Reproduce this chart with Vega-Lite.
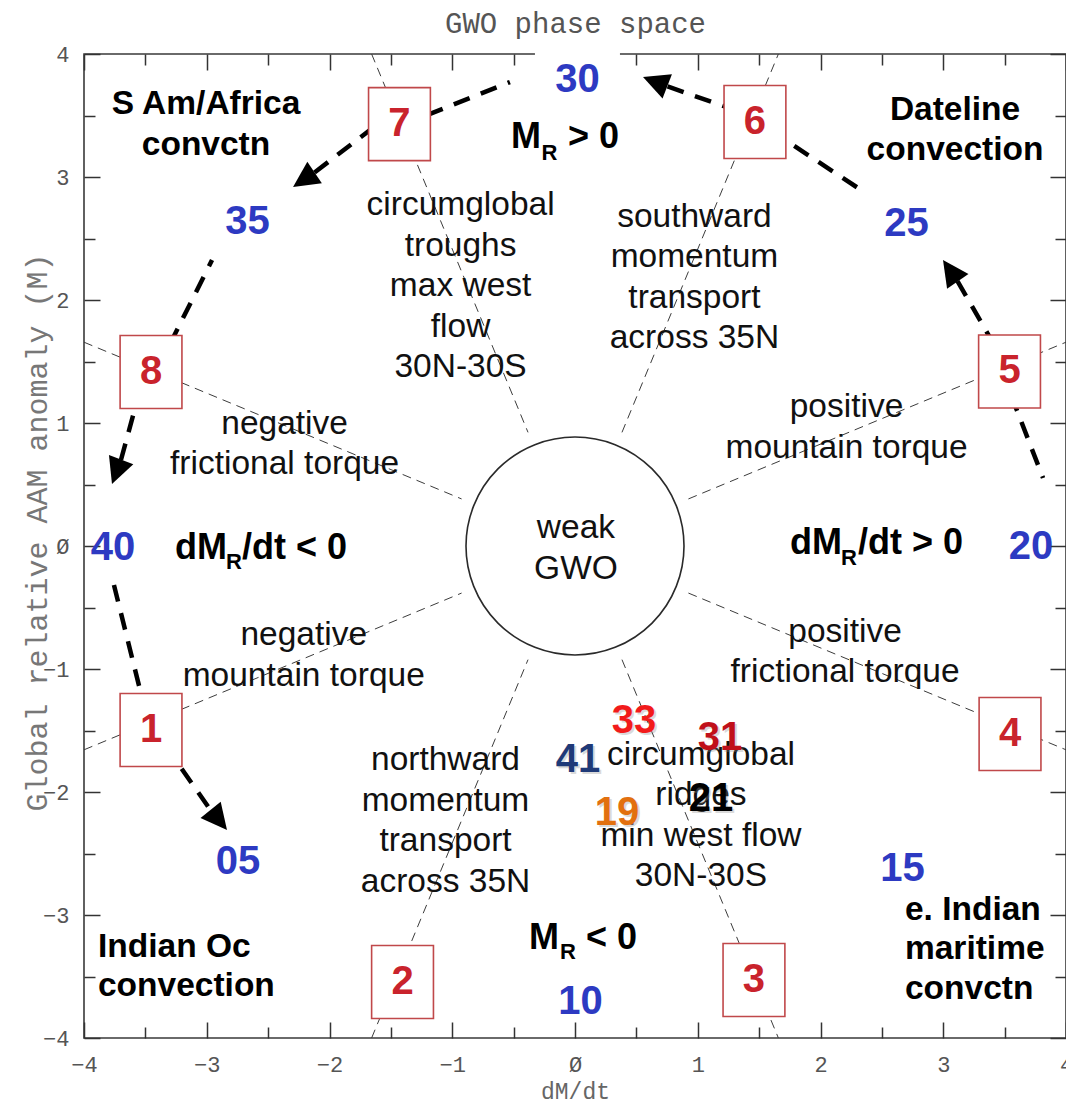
{
  "$schema": "https://vega.github.io/schema/vega-lite/v6.json",
  "width": 982,
  "height": 984,
  "autosize": {"type": "none"},
  "padding": {"left": 84, "top": 54, "right": 0, "bottom": 70},
  "background": "white",
  "config": {"view": {"stroke": "#3a3a3a", "strokeWidth": 1.6}},
  "resolve": {"axis": {"x": "independent", "y": "independent"}},
  "datasets": {
    "spokes": [
      {"spoke": "22.5", "x": 0.9239, "y": 0.3827}, {"spoke": "22.5", "x": 4, "y": 1.6569},
      {"spoke": "67.5", "x": 0.3827, "y": 0.9239}, {"spoke": "67.5", "x": 1.6569, "y": 4},
      {"spoke": "112.5", "x": -0.3827, "y": 0.9239}, {"spoke": "112.5", "x": -1.6569, "y": 4},
      {"spoke": "157.5", "x": -0.9239, "y": 0.3827}, {"spoke": "157.5", "x": -4, "y": 1.6569},
      {"spoke": "202.5", "x": -0.9239, "y": -0.3827}, {"spoke": "202.5", "x": -4, "y": -1.6569},
      {"spoke": "247.5", "x": -0.3827, "y": -0.9239}, {"spoke": "247.5", "x": -1.6569, "y": -4},
      {"spoke": "292.5", "x": 0.3827, "y": -0.9239}, {"spoke": "292.5", "x": 1.6569, "y": -4},
      {"spoke": "337.5", "x": 0.9239, "y": -0.3827}, {"spoke": "337.5", "x": 4, "y": -1.6569}
    ],
    "legs": [
      {"leg": "30-7", "x": -0.530, "y": 3.772}, {"leg": "30-7", "x": -1.426, "y": 3.415},
      {"leg": "7-35", "x": -1.564, "y": 3.463}, {"leg": "7-35", "x": -2.122, "y": 3.037},
      {"leg": "35-8", "x": -2.957, "y": 2.325}, {"leg": "35-8", "x": -3.405, "y": 1.431},
      {"leg": "8-40", "x": -3.544, "y": 1.268}, {"leg": "8-40", "x": -3.699, "y": 0.699},
      {"leg": "40-1", "x": -3.756, "y": -0.317}, {"leg": "40-1", "x": -3.462, "y": -1.496},
      {"leg": "1-05", "x": -3.340, "y": -1.618}, {"leg": "1-05", "x": -2.978, "y": -2.134},
      {"leg": "5-25", "x": 3.462, "y": 1.553}, {"leg": "5-25", "x": 3.116, "y": 2.154},
      {"leg": "20-5", "x": 3.813, "y": 0.553}, {"leg": "20-5", "x": 3.552, "y": 1.228},
      {"leg": "25-6", "x": 2.305, "y": 2.911}, {"leg": "25-6", "x": 1.589, "y": 3.382},
      {"leg": "6-30", "x": 1.303, "y": 3.545}, {"leg": "6-30", "x": 0.754, "y": 3.736}
    ],
    "heads": [
      {"toward": "35", "x": -2.297, "y": 2.919, "heading": 236},
      {"toward": "40", "x": -3.772, "y": 0.504, "heading": 200.6},
      {"toward": "05", "x": -2.835, "y": -2.309, "heading": 140.9},
      {"toward": "25", "x": 2.998, "y": 2.325, "heading": 325.4},
      {"toward": "30", "x": 0.554, "y": 3.813, "heading": 291.2}
    ],
    "phases": [
      {"phase": "1", "x": -3.454, "y": -1.496},
      {"phase": "2", "x": -1.405, "y": -3.545},
      {"phase": "3", "x": 1.458, "y": -3.528},
      {"phase": "4", "x": 3.544, "y": -1.528},
      {"phase": "5", "x": 3.54, "y": 1.419},
      {"phase": "6", "x": 1.466, "y": 3.447},
      {"phase": "7", "x": -1.43, "y": 3.43},
      {"phase": "8", "x": -3.454, "y": 1.415}
    ],
    "days": [
      {"day": "05", "x": -2.745, "y": -2.569},
      {"day": "10", "x": 0.045, "y": -3.707},
      {"day": "15", "x": 2.668, "y": -2.626},
      {"day": "20", "x": 3.715, "y": -0.008},
      {"day": "25", "x": 2.70, "y": 2.618},
      {"day": "30", "x": 0.02, "y": 3.789},
      {"day": "35", "x": -2.668, "y": 2.634},
      {"day": "40", "x": -3.764, "y": -0.016}
    ],
    "years": [
      {"year": "33", "x": 0.481, "y": -1.423},
      {"year": "31", "x": 1.181, "y": -1.561},
      {"year": "41", "x": 0.024, "y": -1.740},
      {"year": "19", "x": 0.342, "y": -2.171},
      {"year": "21", "x": 1.108, "y": -2.057}
    ]
  },
  "layer": [
    {
      "data": {"name": "spokes"},
      "mark": {"type": "line", "stroke": "#3c3c3c", "strokeWidth": 1, "strokeDash": [9, 6]},
      "encoding": {
        "x": {
          "field": "x", "type": "quantitative",
          "scale": {"domain": [-4, 4], "nice": false, "zero": false},
          "axis": {
            "orient": "bottom",
            "values": [-4, -3.5, -3, -2.5, -2, -1.5, -1, -0.5, 0, 0.5, 1, 1.5, 2, 2.5, 3, 3.5, 4],
            "domain": false, "grid": false, "zindex": 0,
            "tickColor": "#333", "tickWidth": 1.5,
            "tickSize": {"condition": {"test": "datum.value % 1 === 0", "value": -16}, "value": -11},
            "labelExpr": "datum.value % 1 !== 0 ? '' : (datum.value === 0 ? 'Ø' : format(datum.value, 'd'))",
            "labelFont": "Liberation Mono", "labelFontSize": 22, "labelColor": "#555",
            "labelFlush": false, "labelOverlap": false, "labelBound": false, "labelPadding": 32,
            "title": "dM/dt", "titleFont": "Liberation Mono", "titleFontSize": 23,
            "titleFontWeight": "normal", "titleColor": "#666",
            "titleY": 53, "titleBaseline": "middle"
          }
        },
        "y": {
          "field": "y", "type": "quantitative",
          "scale": {"domain": [-4, 4], "nice": false, "zero": false},
          "axis": {
            "orient": "left",
            "values": [-4, -3.5, -3, -2.5, -2, -1.5, -1, -0.5, 0, 0.5, 1, 1.5, 2, 2.5, 3, 3.5, 4],
            "domain": false, "grid": false, "zindex": 0,
            "tickColor": "#333", "tickWidth": 1.5,
            "tickSize": {"condition": {"test": "datum.value % 1 === 0", "value": -16}, "value": -11},
            "labelExpr": "datum.value % 1 !== 0 ? '' : (datum.value === 0 ? 'Ø' : format(datum.value, 'd'))",
            "labelFont": "Liberation Mono", "labelFontSize": 22, "labelColor": "#555",
            "labelFlush": false, "labelOverlap": false, "labelBound": false, "labelPadding": 31,
            "title": "Global relative AAM anomaly (M)", "titleFont": "Liberation Mono",
            "titleFontSize": 30, "titleFontWeight": "normal", "titleColor": "#777",
            "titleAngle": 270, "titleX": -47, "titleY": 478, "titleBaseline": "middle"
          }
        },
        "detail": {"field": "spoke"}
      }
    },
    {
      "data": {"values": [{"x": 0, "y": 0}]},
      "mark": {"type": "point", "shape": "circle", "size": 47529, "filled": false, "stroke": "#2a2a2a", "strokeWidth": 1.6, "opacity": 1},
      "encoding": {
        "x": {
          "field": "x", "type": "quantitative",
          "scale": {"domain": [-4, 4], "nice": false, "zero": false},
          "axis": {
            "orient": "top",
            "values": [-4, -3.5, -3, -2.5, -2, -1.5, -1, -0.5, 0, 0.5, 1, 1.5, 2, 2.5, 3, 3.5, 4],
            "domain": false, "grid": false, "labels": false, "zindex": 0,
            "tickColor": "#333", "tickWidth": 1.5,
            "tickSize": {"condition": {"test": "datum.value % 1 === 0", "value": -16}, "value": -11},
            "title": "GWO phase space", "titleFont": "Liberation Mono", "titleFontSize": 29,
            "titleFontWeight": "normal", "titleColor": "#555",
            "titleY": -31, "titleBaseline": "middle"
          }
        },
        "y": {
          "field": "y", "type": "quantitative",
          "scale": {"domain": [-4, 4], "nice": false, "zero": false},
          "axis": {
            "orient": "right",
            "values": [-4, -3.5, -3, -2.5, -2, -1.5, -1, -0.5, 0, 0.5, 1, 1.5, 2, 2.5, 3, 3.5, 4],
            "domain": false, "grid": false, "labels": false, "zindex": 0,
            "tickColor": "#333", "tickWidth": 1.5,
            "tickSize": {"condition": {"test": "datum.value % 1 === 0", "value": -16}, "value": -11},
            "title": null
          }
        }
      }
    },
    {
      "data": {"name": "legs"},
      "mark": {"type": "line", "stroke": "#000", "strokeWidth": 4.5, "strokeDash": [17, 12], "strokeCap": "butt"},
      "encoding": {
        "x": {"field": "x", "type": "quantitative", "scale": {"domain": [-4, 4]}, "axis": null},
        "y": {"field": "y", "type": "quantitative", "scale": {"domain": [-4, 4]}, "axis": null},
        "detail": {"field": "leg"}
      }
    },
    {
      "data": {"name": "heads"},
      "mark": {"type": "point", "shape": "M0,0L0.5,1L-0.5,1Z", "size": 2704, "filled": true, "fill": "#000", "opacity": 1, "strokeWidth": 0},
      "encoding": {
        "x": {"field": "x", "type": "quantitative", "scale": {"domain": [-4, 4]}, "axis": null},
        "y": {"field": "y", "type": "quantitative", "scale": {"domain": [-4, 4]}, "axis": null},
        "angle": {"field": "heading", "type": "quantitative", "scale": null}
      }
    },
    {
      "data": {"name": "phases"},
      "mark": {"type": "point", "shape": "M-0.847,-1H0.847V1H-0.847Z", "size": 5329, "filled": true, "fill": "#fff", "stroke": "#c0484a", "strokeWidth": 1.6, "opacity": 1},
      "encoding": {
        "x": {"field": "x", "type": "quantitative", "scale": {"domain": [-4, 4]}, "axis": null},
        "y": {"field": "y", "type": "quantitative", "scale": {"domain": [-4, 4]}, "axis": null}
      }
    },
    {
      "data": {"name": "phases"},
      "mark": {"type": "text", "font": "Liberation Sans", "fontWeight": "bold", "fontSize": 40, "fill": "#c9232c", "align": "center", "baseline": "middle"},
      "encoding": {
        "x": {"field": "x", "type": "quantitative", "scale": {"domain": [-4, 4]}, "axis": null},
        "y": {"field": "y", "type": "quantitative", "scale": {"domain": [-4, 4]}, "axis": null},
        "text": {"field": "phase"}
      }
    },
    {
      "data": {"name": "days"},
      "transform": [{"filter": "datum.day === '30'"}],
      "mark": {"type": "point", "shape": "square", "size": 7225, "filled": true, "fill": "#fff", "strokeWidth": 0, "opacity": 1},
      "encoding": {
        "x": {"field": "x", "type": "quantitative", "scale": {"domain": [-4, 4]}, "axis": null},
        "y": {"field": "y", "type": "quantitative", "scale": {"domain": [-4, 4]}, "axis": null}
      }
    },
    {
      "data": {"name": "days"},
      "mark": {"type": "text", "font": "Liberation Sans", "fontWeight": "bold", "fontSize": 40, "fill": "#2d3ac2", "align": "center", "baseline": "middle"},
      "encoding": {
        "x": {"field": "x", "type": "quantitative", "scale": {"domain": [-4, 4]}, "axis": null},
        "y": {"field": "y", "type": "quantitative", "scale": {"domain": [-4, 4]}, "axis": null},
        "text": {"field": "day"}
      }
    },
    {
      "data": {"values": [
        {"note": "circumglobal\ntroughs\nmax west\nflow\n30N-30S", "x": -0.932, "y": 2.772},
        {"note": "southward\nmomentum\ntransport\nacross 35N", "x": 0.973, "y": 2.675},
        {"note": "negative\nfrictional torque", "x": -2.366, "y": 0.992},
        {"note": "positive\nmountain torque", "x": 2.212, "y": 1.130},
        {"note": "negative\nmountain torque", "x": -2.21, "y": -0.724},
        {"note": "positive\nfrictional torque", "x": 2.2, "y": -0.699},
        {"note": "northward\nmomentum\ntransport\nacross 35N", "x": -1.055, "y": -1.740},
        {"note": "circumglobal\nridges\nmin west flow\n30N-30S", "x": 1.026, "y": -1.699},
        {"note": "weak\nGWO", "x": 0.008, "y": 0.146}
      ]},
      "mark": {"type": "text", "font": "Liberation Sans", "fontSize": 33.5, "fill": "#111", "align": "center", "baseline": "middle", "lineBreak": "\n", "lineHeight": 40.5},
      "encoding": {
        "x": {"field": "x", "type": "quantitative", "scale": {"domain": [-4, 4]}, "axis": null},
        "y": {"field": "y", "type": "quantitative", "scale": {"domain": [-4, 4]}, "axis": null},
        "text": {"field": "note"}
      }
    },
    {
      "data": {"values": [
        {"region": "S Am/Africa\nconvctn", "x": -3.006, "y": 3.593},
        {"region": "Dateline\nconvection", "x": 3.096, "y": 3.545}
      ]},
      "mark": {"type": "text", "font": "Liberation Sans", "fontWeight": "bold", "fontSize": 33.5, "fill": "#000", "align": "center", "baseline": "middle", "lineBreak": "\n", "lineHeight": 40.5},
      "encoding": {
        "x": {"field": "x", "type": "quantitative", "scale": {"domain": [-4, 4]}, "axis": null},
        "y": {"field": "y", "type": "quantitative", "scale": {"domain": [-4, 4]}, "axis": null},
        "text": {"field": "region"}
      }
    },
    {
      "data": {"values": [
        {"region": "Indian Oc\nconvection", "x": -3.886, "y": -3.260},
        {"region": "e. Indian\nmaritime\nconvctn", "x": 2.688, "y": -2.959}
      ]},
      "mark": {"type": "text", "font": "Liberation Sans", "fontWeight": "bold", "fontSize": 33.5, "fill": "#000", "align": "left", "baseline": "middle", "lineBreak": "\n", "lineHeight": 39.5},
      "encoding": {
        "x": {"field": "x", "type": "quantitative", "scale": {"domain": [-4, 4]}, "axis": null},
        "y": {"field": "y", "type": "quantitative", "scale": {"domain": [-4, 4]}, "axis": null},
        "text": {"field": "region"}
      }
    },
    {
      "data": {"values": [
        {"piece": "M", "x": -0.277, "y": 3.325},
        {"piece": "M", "x": -0.130, "y": -3.187},
        {"piece": "dM", "x": -2.835, "y": -0.016},
        {"piece": "dM", "x": 2.175, "y": 0.024}
      ]},
      "mark": {"type": "text", "font": "Liberation Sans", "fontWeight": "bold", "fontSize": 36, "fill": "#000", "align": "right", "baseline": "middle"},
      "encoding": {
        "x": {"field": "x", "type": "quantitative", "scale": {"domain": [-4, 4]}, "axis": null},
        "y": {"field": "y", "type": "quantitative", "scale": {"domain": [-4, 4]}, "axis": null},
        "text": {"field": "piece"}
      }
    },
    {
      "data": {"values": [
        {"piece": "> 0", "x": -0.057, "y": 3.325},
        {"piece": "< 0", "x": 0.090, "y": -3.187},
        {"piece": "/dt < 0", "x": -2.713, "y": -0.016},
        {"piece": "/dt > 0", "x": 2.305, "y": 0.024}
      ]},
      "mark": {"type": "text", "font": "Liberation Sans", "fontWeight": "bold", "fontSize": 36, "fill": "#000", "align": "left", "baseline": "middle"},
      "encoding": {
        "x": {"field": "x", "type": "quantitative", "scale": {"domain": [-4, 4]}, "axis": null},
        "y": {"field": "y", "type": "quantitative", "scale": {"domain": [-4, 4]}, "axis": null},
        "text": {"field": "piece"}
      }
    },
    {
      "data": {"values": [
        {"sub": "R", "x": -0.208, "y": 3.195},
        {"sub": "R", "x": -0.057, "y": -3.301},
        {"sub": "R", "x": -2.778, "y": -0.130},
        {"sub": "R", "x": 2.232, "y": -0.098}
      ]},
      "mark": {"type": "text", "font": "Liberation Sans", "fontWeight": "bold", "fontSize": 22, "fill": "#000", "align": "center", "baseline": "middle"},
      "encoding": {
        "x": {"field": "x", "type": "quantitative", "scale": {"domain": [-4, 4]}, "axis": null},
        "y": {"field": "y", "type": "quantitative", "scale": {"domain": [-4, 4]}, "axis": null},
        "text": {"field": "sub"}
      }
    },
    {
      "data": {"name": "years"},
      "mark": {"type": "text", "font": "Liberation Sans", "fontWeight": "bold", "fontSize": 40, "align": "center", "baseline": "middle", "fill": "#888", "opacity": 0.3, "dx": 2, "dy": 2},
      "encoding": {
        "x": {"field": "x", "type": "quantitative", "scale": {"domain": [-4, 4]}, "axis": null},
        "y": {"field": "y", "type": "quantitative", "scale": {"domain": [-4, 4]}, "axis": null},
        "text": {"field": "year"}
      }
    },
    {
      "data": {"name": "years"},
      "mark": {"type": "text", "font": "Liberation Sans", "fontWeight": "bold", "fontSize": 40, "align": "center", "baseline": "middle", "opacity": 1},
      "encoding": {
        "x": {"field": "x", "type": "quantitative", "scale": {"domain": [-4, 4]}, "axis": null},
        "y": {"field": "y", "type": "quantitative", "scale": {"domain": [-4, 4]}, "axis": null},
        "text": {"field": "year"},
        "color": {
          "field": "year", "type": "nominal", "legend": null,
          "scale": {"domain": ["33", "31", "41", "19", "21"], "range": ["#f21b1b", "#c0101a", "#1f3a78", "#e2700f", "#000000"]}
        }
      }
    }
  ]
}
